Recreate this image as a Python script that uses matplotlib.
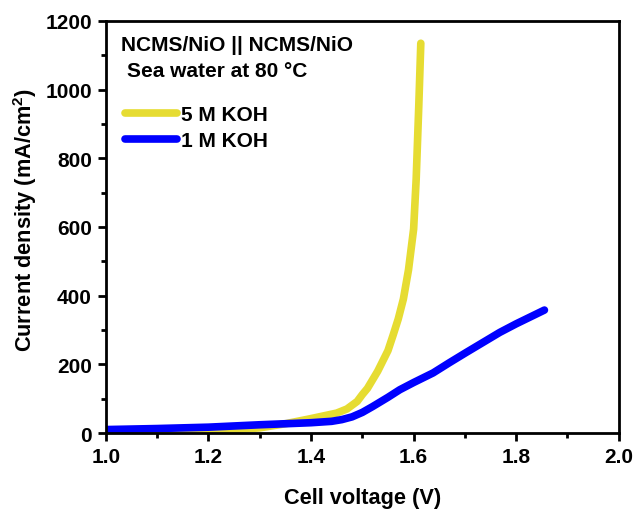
import matplotlib
matplotlib.use("Agg")
import matplotlib.pyplot as plt
from matplotlib.ticker import MultipleLocator

# ============ data ============
v_5m = [1.0, 1.1, 1.2, 1.25, 1.3, 1.35, 1.4, 1.45, 1.47, 1.49, 1.50, 1.51,
        1.53, 1.55, 1.56, 1.57, 1.58, 1.59, 1.60, 1.605, 1.61, 1.614]
j_5m = [2, 4, 7, 10, 15, 27, 42, 58, 70, 92, 112, 130,
        180, 240, 285, 332, 390, 475, 594, 740, 950, 1135]

v_1m = [1.0, 1.1, 1.2, 1.3, 1.4, 1.44, 1.46, 1.48, 1.50, 1.52, 1.55, 1.573,
        1.6, 1.638, 1.67, 1.703, 1.768, 1.8, 1.855]
j_1m = [10, 13, 17, 24, 30, 34, 39, 47, 60, 77, 104, 126,
        147, 175, 205, 235, 293, 318, 358]

labels = ["5 M KOH", "1 M KOH"]
colors = ["#E6DC32", "#0000FF"]

plt.rcParams["font.family"] = ["Liberation Sans", "DejaVu Sans"]
plt.rcParams["font.weight"] = "bold"
plt.rcParams["mathtext.fontset"] = "custom"
plt.rcParams["mathtext.bf"] = "Liberation Sans:bold"
plt.rcParams["mathtext.rm"] = "Liberation Sans:bold"

FS = 15
FS_LABEL = 15.7

fig = plt.figure(figsize=(6.34, 5.10), dpi=100)
ax = fig.add_axes([0.167, 0.149, 0.809, 0.808])

for v, j, c, lab in zip([v_5m, v_1m], [j_5m, j_1m], colors, labels):
    ax.plot(v, j, color=c, lw=5.5, solid_capstyle="round",
            solid_joinstyle="round", label=lab)

ax.set_xlim(1.0, 2.0)
ax.set_ylim(0, 1200)
ax.xaxis.set_major_locator(MultipleLocator(0.2))
ax.xaxis.set_minor_locator(MultipleLocator(0.1))
ax.yaxis.set_major_locator(MultipleLocator(200))
ax.yaxis.set_minor_locator(MultipleLocator(100))
ax.xaxis.set_major_formatter(plt.FormatStrFormatter("%.1f"))

for s in ax.spines.values():
    s.set_linewidth(2)
ax.tick_params(which="major", direction="out", length=6, width=2, labelsize=FS, pad=4)
ax.tick_params(which="minor", direction="out", length=3.5, width=2)

ax.set_xlabel("Cell voltage (V)", fontsize=FS_LABEL, fontweight="bold", labelpad=15)
ax.set_ylabel(r"Current density (mA/cm$^{2}$)", fontsize=FS_LABEL, fontweight="bold")
ax.yaxis.set_label_coords(-0.131, 0.519)

ax.text(0.029, 0.944, "NCMS/NiO || NCMS/NiO", transform=ax.transAxes,
        fontsize=FS, fontweight="bold", va="center")
ax.text(0.041, 0.879, "Sea water at 80 °C", transform=ax.transAxes,
        fontsize=FS, fontweight="bold", va="center")

leg = ax.legend(loc="upper left", bbox_to_anchor=(0.037, 0.795), frameon=False,
                fontsize=FS, handlelength=2.5, handletextpad=0.2,
                labelspacing=0.32, borderaxespad=0, borderpad=0)

fig.savefig("out.png", dpi=100)
